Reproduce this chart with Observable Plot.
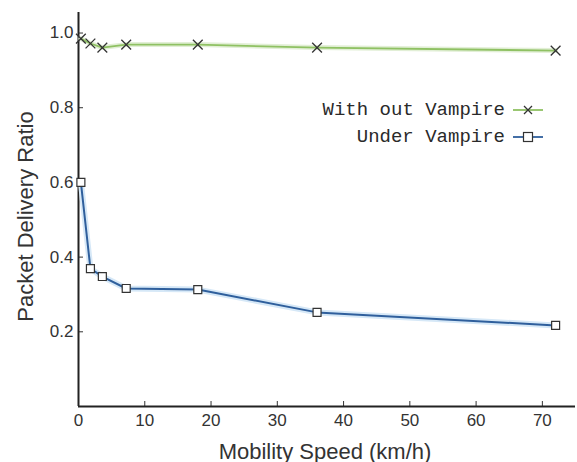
<!DOCTYPE html>
<html><head><meta charset="utf-8">
<script src="https://cdn.jsdelivr.net/npm/d3@7"></script>
<script src="https://cdn.jsdelivr.net/npm/@observablehq/plot@0.6"></script>
<style>body{margin:0;background:#fff}</style>
</head><body><div id="chart"></div>
<script>
const speeds = [0.36, 1.8, 3.6, 7.2, 18, 36, 72];
const withoutVampire = [0.985, 0.972, 0.961, 0.969, 0.969, 0.961, 0.953];
const underVampire = [0.600, 0.369, 0.348, 0.316, 0.313, 0.252, 0.217];
const seriesNames = ["With out Vampire", "Under Vampire"];
const xTicks = [0, 10, 20, 30, 40, 50, 60, 70];
const yTicks = [0.2, 0.4, 0.6, 0.8, 1.0];
const xLabel = "Mobility Speed (km/h)";
const yLabel = "Packet Delivery Ratio";

const green = speeds.map((s, i) => ({x: s, y: withoutVampire[i]}));
const blue = speeds.map((s, i) => ({x: s, y: underVampire[i]}));

function legendMark() {
  return (index, scales, values, dims) => {
    const ns = "http://www.w3.org/2000/svg";
    const g = document.createElementNS(ns, "g");
    const right = dims.width - dims.marginRight;
    const top = dims.marginTop;
    const items = [
      {name: seriesNames[0], color: "#8fc163", sym: "x", dy: 98},
      {name: seriesNames[1], color: "#2f5f9c", sym: "sq", dy: 125}
    ];
    for (const it of items) {
      const y = top + it.dy;
      const t = document.createElementNS(ns, "text");
      t.setAttribute("x", right - 70);
      t.setAttribute("y", y);
      t.setAttribute("text-anchor", "end");
      t.setAttribute("dominant-baseline", "middle");
      t.setAttribute("font-family", "Liberation Mono, monospace");
      t.setAttribute("font-size", "19");
      t.setAttribute("fill", "#2a2a2a");
      t.textContent = it.name;
      g.appendChild(t);
      const l = document.createElementNS(ns, "line");
      l.setAttribute("x1", right - 62); l.setAttribute("x2", right - 32);
      l.setAttribute("y1", y); l.setAttribute("y2", y);
      l.setAttribute("stroke", it.color); l.setAttribute("stroke-width", 1.8);
      g.appendChild(l);
      const cx = right - 47;
      if (it.sym === "x") {
        const p = document.createElementNS(ns, "path");
        p.setAttribute("d", `M${cx-4},${y-4}L${cx+4},${y+4}M${cx-4},${y+4}L${cx+4},${y-4}`);
        p.setAttribute("stroke", "#333"); p.setAttribute("stroke-width", 1.3);
        g.appendChild(p);
      } else {
        const r = document.createElementNS(ns, "rect");
        r.setAttribute("x", cx - 4.5); r.setAttribute("y", y - 4.5);
        r.setAttribute("width", 9); r.setAttribute("height", 9);
        r.setAttribute("fill", "#fff"); r.setAttribute("stroke", "#333"); r.setAttribute("stroke-width", 1.2);
        g.appendChild(r);
      }
    }
    return g;
  };
}

const plot = Plot.plot({
  width: 577,
  height: 462,
  marginLeft: 78,
  marginRight: 2,
  marginTop: 12,
  marginBottom: 56,
  style: {fontFamily: "Liberation Sans, Arial, sans-serif", background: "#fff", color: "#333"},
  x: {domain: [0, 75]},
  y: {domain: [0, 1.055]},
  marks: [
    Plot.axisX({ticks: xTicks, tickSize: -5, tickPadding: 12, fontSize: 17, fill: "#333", stroke: "#333", label: null}),
    Plot.axisY({ticks: yTicks, tickSize: -5, tickPadding: 10, fontSize: 17, fill: "#333", stroke: "#333",
      tickFormat: d3.format(".1f"), label: null}),
    Plot.text([xLabel], {text: d => d, frameAnchor: "bottom", lineAnchor: "bottom", dy: 52, dx: -2,
      fontSize: 22, fill: "#333"}),
    Plot.text([yLabel], {text: d => d, frameAnchor: "left", textAnchor: "middle", lineAnchor: "middle",
      rotate: -90, dx: -53, dy: 7, fontSize: 22, fill: "#333"}),
    Plot.ruleX([0], {stroke: "#222", strokeWidth: 2}),
    Plot.ruleY([0], {stroke: "#222", strokeWidth: 2}),
    Plot.line(green, {x: "x", y: "y", stroke: "#e2efd6", strokeWidth: 5}),
    Plot.line(green, {x: "x", y: "y", stroke: "#8fc163", strokeWidth: 1.8}),
    Plot.line(blue, {x: "x", y: "y", stroke: "#d6e8f7", strokeWidth: 6}),
    Plot.line(blue, {x: "x", y: "y", stroke: "#2f5f9c", strokeWidth: 2}),
    Plot.dot(green, {x: "x", y: "y", symbol: "times", r: 4.5, stroke: "#333", strokeWidth: 1.3}),
    Plot.dot(blue, {x: "x", y: "y", symbol: "square", r: 4.5, fill: "#fff", stroke: "#333", strokeWidth: 1.2}),
    legendMark()
  ]
});
document.getElementById("chart").appendChild(plot);
</script>
</body></html>
